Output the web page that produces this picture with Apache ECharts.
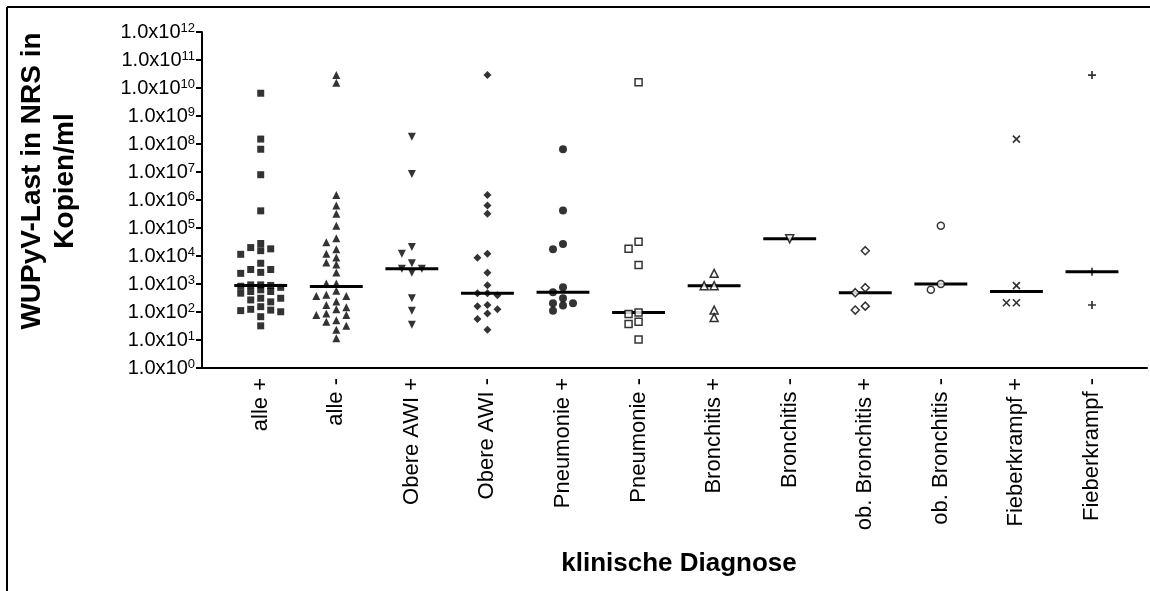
<!DOCTYPE html>
<html>
<head>
<meta charset="utf-8">
<script src="https://cdn.jsdelivr.net/npm/echarts@6/dist/echarts.min.js"></script>
<style>
  html, body { margin: 0; padding: 0; background: #ffffff; }
  #chart { width: 1150px; height: 591px; }
</style>
</head>
<body>
<div id="chart"></div>
<script>
// Diagnosis groups shown on the x axis
const categories = [
  'alle +', 'alle -', 'Obere AWI +', 'Obere AWI -', 'Pneumonie +', 'Pneumonie -',
  'Bronchitis +', 'Bronchitis -', 'ob. Bronchitis +', 'ob. Bronchitis -',
  'Fieberkrampf +', 'Fieberkrampf -'
];

// WUPyV load in NRS, copies/ml, one array per group
const alleP = [6.5e9, 1.5e8, 6.5e7, 8.0e6, 4.1e5,
  2.8e4, 2.0e4, 1.8e4, 1.55e4, 1.15e4,
  5.5e3, 3.3e3, 3.3e3, 2.6e3, 2.4e3,
  930, 930, 890, 830, 760,
  620, 540, 540, 470,
  310, 310, 270, 230,
  155, 125, 117, 112, 102, 68,
  32];
const alleN = [2.9e10, 1.55e10, 1.5e6, 6.3e5, 3.2e5, 1.2e5, 4.3e4, 3.1e4, 1.75e4, 1.2e4,
  8.9e3, 5.8e3, 5.0e3, 2.6e3, 1050, 1050, 575, 410, 370, 370,
  235, 178, 148, 126, 89, 78, 78, 51, 45, 32, 23, 11.5];
const obereAwiP = [1.8e8, 8.5e6, 2.1e4, 1.2e4, 5.5e3, 3.5e3, 3.5e3, 2.5e3, 310, 110, 35];
const obereAwiN = [2.9e10, 1.5e6, 6.3e5, 3.2e5, 1.2e4, 8.7e3, 2.5e3, 900,
  470, 470, 400, 178, 162, 126, 89, 56, 23];
const pneumonieP = [6.5e7, 4.2e5, 2.7e4, 1.75e4, 760, 510, 310, 205, 205, 170, 110];
const pneumonieN = [1.6e10, 3.2e4, 1.8e4, 4.8e3, 95, 85, 45, 37, 10.5];
const bronchitisP = [2.4e3, 870, 870, 117, 63];
const bronchitisN = [4.1e4];
const obBronchitisP = [1.55e4, 740, 490, 162, 117];
const obBronchitisN = [1.2e5, 1.0e3, 620];
const fieberkrampfP = [1.5e8, 870, 214, 214];
const fieberkrampfN = [2.9e10, 2.75e3, 178];

// y axis tick labels: mantissa text, exponents 0..12
const tickMantissa = '1.0x10';
const tickExponents = [0, 1, 2, 3, 4, 5, 6, 7, 8, 9, 10, 11, 12];

const groups = [alleP, alleN, obereAwiP, obereAwiN, pneumonieP, pneumonieN,
  bronchitisP, bronchitisN, obBronchitisP, obBronchitisN, fieberkrampfP, fieberkrampfN];

// ---- layout ----
const W = 1150, H = 591;
const GRID = { left: 202, top: 32, right: 3, bottom: 223 };
const X_MIN = -0.777, X_MAX = 11.728;
const pxPerX = (W - GRID.left - GRID.right) / (X_MAX - X_MIN);
const pxPerDecade = (H - GRID.top - GRID.bottom) / (tickExponents.length - 1);
const SLOT_PX = 10;      // horizontal step between neighbouring points
const MIN_GAP_PX = 7;    // vertical distance below which points share no slot
const MAX_SLOT = 2;      // columns never grow wider than +/- this many slots
const FONT = "'Liberation Sans', Arial, Helvetica, sans-serif";

const symbols = [
  { symbol: 'rect', size: 7, open: false },
  { symbol: 'triangle', size: 8, open: false },
  { symbol: 'triangle', size: 8, open: false, rotate: 180 },
  { symbol: 'diamond', size: 8, open: false },
  { symbol: 'circle', size: 8, open: false },
  { symbol: 'rect', size: 7, open: true },
  { symbol: 'triangle', size: 8, open: true },
  { symbol: 'triangle', size: 8, open: true, rotate: 180 },
  { symbol: 'diamond', size: 8, open: true },
  { symbol: 'circle', size: 7, open: true },
  { symbol: 'path://M0,0L10,10M10,0L0,10', size: 7, open: true, cross: true },
  { symbol: 'path://M5,0L5,10M0,5L10,5', size: 8, open: true, cross: true }
];

function median(arr) {
  const s = arr.slice().sort((a, b) => a - b);
  const n = s.length;
  return n % 2 ? s[(n - 1) / 2] : (s[n / 2 - 1] + s[n / 2]) / 2;
}

// Column scatter layout: points that sit too close vertically are pushed
// sideways into alternating slots around the column centre. When every slot
// is taken, the slot with the most vertical clearance is used.
function spread(values) {
  const order = values.map((v, i) => i).sort((a, b) => values[b] - values[a]);
  const slotOrder = [0];
  for (let k = 1; k <= MAX_SLOT; k++) slotOrder.push(-k, k);
  const placed = [];
  const slots = new Array(values.length);
  order.forEach(i => {
    const y = Math.log10(values[i]) * pxPerDecade;
    let best = 0, bestGap = -1;
    for (const slot of slotOrder) {
      const gap = placed.reduce((m, p) => p.slot === slot ? Math.min(m, Math.abs(p.y - y)) : m, Infinity);
      if (gap >= MIN_GAP_PX) { best = slot; bestGap = gap; break; }
      if (gap > bestGap) { best = slot; bestGap = gap; }
    }
    placed.push({ slot: best, y });
    slots[i] = best;
  });
  return slots;
}

const series = [];

// median bars
series.push({
  type: 'custom',
  z: 1,
  silent: true,
  data: groups.map((g, i) => [i, median(g)]),
  renderItem: (params, api) => {
    const a = api.coord([api.value(0) - 0.35, api.value(1)]);
    const b = api.coord([api.value(0) + 0.35, api.value(1)]);
    return {
      type: 'line',
      shape: { x1: a[0], y1: a[1], x2: b[0], y2: b[1] },
      style: { stroke: '#000', lineWidth: 3 }
    };
  }
});

groups.forEach((g, i) => {
  const sym = symbols[i];
  const slots = spread(g);
  series.push({
    type: 'scatter',
    name: categories[i],
    z: 2,
    symbol: sym.symbol,
    symbolSize: sym.size,
    symbolRotate: sym.rotate || 0,
    itemStyle: sym.cross
      ? { color: 'rgba(0,0,0,0)', borderColor: '#000', borderWidth: 1.7 }
      : sym.open
        ? { color: '#fff', borderColor: '#000', borderWidth: 1.5 }
        : { color: '#000' },
    emphasis: { disabled: true },
    data: g.map((v, j) => [i + slots[j] * SLOT_PX / pxPerX, v])
  });
});

const chart = echarts.init(document.getElementById('chart'), null, { renderer: 'canvas' });
chart.setOption({
  animation: false,
  backgroundColor: '#ffffff',
  grid: { left: GRID.left, right: GRID.right, top: GRID.top, bottom: GRID.bottom, containLabel: false },
  xAxis: {
    type: 'value',
    min: X_MIN,
    max: X_MAX,
    splitLine: { show: false },
    axisTick: { show: false },
    axisLine: { onZero: false, lineStyle: { color: '#000', width: 2 } },
    axisLabel: {
      customValues: categories.map((c, i) => i),
      formatter: v => categories[Math.round(v)],
      rotate: 90,
      margin: 10,
      color: '#000',
      fontFamily: FONT,
      fontSize: 22
    }
  },
  yAxis: {
    type: 'log',
    logBase: 10,
    min: Math.pow(10, tickExponents[0]),
    max: Math.pow(10, tickExponents[tickExponents.length - 1]),
    interval: 1,
    splitLine: { show: false },
    axisLine: { show: true, onZero: false, lineStyle: { color: '#000', width: 2 } },
    axisTick: { show: true, length: 6, lineStyle: { color: '#000', width: 2 } },
    axisLabel: {
      margin: 7,
      formatter: v => '{m|' + tickMantissa + '}{e|' + Math.round(Math.log10(v)) + '}',
      rich: {
        m: { fontFamily: FONT, fontSize: 20, color: '#000' },
        e: { fontFamily: FONT, fontSize: 13, color: '#000', verticalAlign: 'top' }
      }
    }
  },
  graphic: [
    { type: 'line', shape: { x1: 7, y1: 7, x2: W, y2: 7 }, style: { stroke: '#000', lineWidth: 2 }, silent: true },
    { type: 'line', shape: { x1: 7, y1: 7, x2: 7, y2: H }, style: { stroke: '#000', lineWidth: 2 }, silent: true },
    {
      type: 'text', x: 49, y: 181, rotation: Math.PI / 2, silent: true,
      style: {
        text: 'WUPyV-Last in NRS in\nKopien/ml',
        fill: '#000', font: 'bold 28px ' + FONT, lineHeight: 33,
        textAlign: 'center', textVerticalAlign: 'middle'
      }
    },
    {
      type: 'text', x: 679, y: 564, silent: true,
      style: {
        text: 'klinische Diagnose',
        fill: '#000', font: 'bold 26px ' + FONT,
        textAlign: 'center', textVerticalAlign: 'middle'
      }
    }
  ],
  series: series
});
</script>
</body>
</html>
